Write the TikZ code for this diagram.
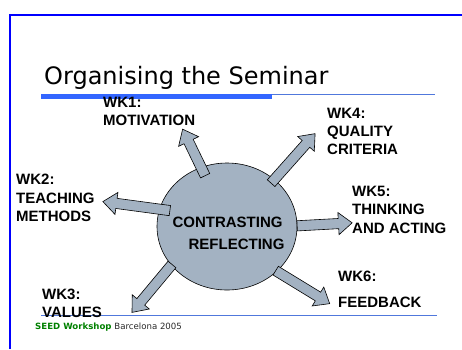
\documentclass[tikz,border=0pt]{standalone}
\usepackage{fontspec}
\setmainfont{Liberation Sans}
\newfontfamily\boldsans{Liberation Sans Bold}
\newfontfamily\slidefont{DejaVu Sans}
\usetikzlibrary{calc, shapes.geometric, shapes.arrows}

\definecolor{frameblue}{RGB}{0,0,255}
\definecolor{barblue}{RGB}{51,102,255}
\definecolor{lineblue}{RGB}{80,120,220}
\definecolor{hubgray}{RGB}{163,178,194}
\definecolor{seedgreen}{RGB}{0,128,0}
\definecolor{footgray}{RGB}{40,40,40}

% block arrow from #1 to #2
\newcommand\blockarr[2]{%
  \path let \p1=($(#2)-(#1)$) in
    node[fatarrow, minimum height={veclen(\x1,\y1)}, rotate={atan2(\y1,\x1)}]
      at ($(#1)!0.5!(#2)$) {};}

\begin{document}
\begin{tikzpicture}[
      x=1pt, y=-1pt,
      hub/.style={ellipse, draw, fill=hubgray, line width=0.6pt,
        minimum width=140pt, minimum height=127pt},
      fatarrow/.style={single arrow, draw, fill=hubgray, line width=0.6pt,
        inner xsep=0pt, inner ysep=4.8pt, single arrow head extend=6pt,
        single arrow tip angle=78},
      wk/.style={anchor=north west, inner sep=0pt, align=left,
        font=\boldsans\fontsize{15}{17.5}\selectfont},
      hubtxt/.style={anchor=base, inner sep=0pt,
        font=\boldsans\fontsize{15}{17.5}\selectfont},
    ]
    \useasboundingbox (0,0) rectangle (462,349);

    % slide frame and rules
    \draw[frameblue, line width=2.2pt] (10,349) -- (10,15) -- (462,15);
    \fill[barblue] (41,93.5) rectangle (272,98.5);
    \draw[lineblue, line width=0.8pt] (272,94) -- (435,94);
    \draw[lineblue, line width=0.8pt] (41,315) -- (437,315);

    \node[anchor=base west, inner sep=0pt, font=\slidefont\fontsize{24}{28}\selectfont]
      (title) at (44,84) {Organising the Seminar};

    % hub and spokes
    \node[hub] (hub) at (227,226.5) {};

    \coordinate (t1) at (206.5,178.5);  \coordinate (h1) at (184,132);
    \coordinate (t2) at (173,211);      \coordinate (h2) at (106,202);
    \coordinate (t3) at (174,262);      \coordinate (h3) at (134,310);
    \coordinate (t4) at (269,185.5);    \coordinate (h4) at (313,136);
    \coordinate (t5) at (294,226);      \coordinate (h5) at (349,223);
    \coordinate (t6) at (273,269);      \coordinate (h6) at (327,302);

    \blockarr{t1}{h1}
    \blockarr{t2}{h2}
    \blockarr{t3}{h3}
    \blockarr{t4}{h4}
    \blockarr{t5}{h5}
    \blockarr{t6}{h6}

    \node[hubtxt] (contr) at (227.5,227) {CONTRASTING};
    \node[hubtxt] (refl) at (236.5,249) {REFLECTING};

    % week labels
    \node[wk] (wk1) at (103,97) {WK1:\\MOTIVATION};
    \node[wk] (wk2) at (16,174) {WK2:\\[1pt]TEACHING\\[1pt]METHODS};
    \node[wk] (wk3) at (42,289) {WK3:\\VALUES};
    \node[wk] (wk4) at (327,107.5) {WK4:\\[1pt]QUALITY\\CRITERIA};
    \node[wk] (wk5) at (352,185.5) {WK5:\\[1pt]THINKING\\[1pt]AND ACTING};
    \node[wk] (wk6) at (338,271) {WK6:\\[8.5pt]FEEDBACK};

    % footer
    \node[anchor=base west, inner sep=0pt, font=\slidefont\fontsize{8.6}{10}\selectfont]
      (foot) at (35,329.5) {\textcolor{seedgreen}{\bfseries SEED Workshop} \textcolor{footgray}{Barcelona 2005}};
  \end{tikzpicture}
\end{document}
